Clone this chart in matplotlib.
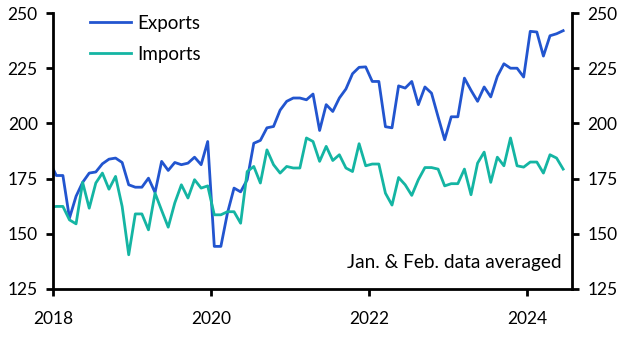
import numpy as np
import matplotlib
matplotlib.use("Agg")
from matplotlib import pyplot as plt

# monthly values, Dec 2017 (clipped at the axis) to Jun 2024
exports = [182.6,
           176.4, 176.4, 157.1, 167.0, 173.3, 177.5, 178.0, 181.7, 183.8, 184.3, 182.3, 172.2,
           171.1, 171.1, 175.2, 168.7, 182.8, 178.7, 182.3, 181.3, 182.0, 184.7, 181.3, 191.8,
           144.3, 144.3, 159.4, 170.7, 169.0, 174.5, 191.0, 192.3, 198.0, 198.6, 206.0, 210.0,
           211.5, 211.5, 210.7, 213.3, 196.8, 208.5, 205.4, 211.5, 215.6, 222.5, 225.4, 225.6,
           219.0, 219.0, 198.5, 198.0, 217.0, 216.0, 219.0, 208.5, 216.5, 213.7, 203.0, 192.6,
           203.0, 203.0, 220.5, 215.0, 210.0, 216.5, 212.0, 221.3, 227.0, 225.0, 225.0, 221.0,
           241.7, 241.4, 230.5, 239.7, 240.6, 242.0]
imports = [162.0,
           162.4, 162.4, 156.3, 154.5, 173.3, 161.6, 173.0, 177.5, 170.2, 176.0, 162.4, 140.5,
           159.0, 159.0, 151.8, 168.4, 160.6, 153.0, 164.0, 172.2, 166.2, 174.5, 170.7, 171.7,
           158.6, 158.6, 160.0, 160.0, 154.8, 178.2, 180.5, 173.0, 188.0, 181.3, 177.5, 180.5,
           179.8, 179.8, 193.4, 191.8, 182.8, 189.6, 183.2, 185.8, 179.8, 178.2, 190.8, 180.8,
           181.6, 181.6, 168.4, 163.0, 175.5, 172.2, 167.4, 174.5, 180.0, 180.0, 179.3, 171.7,
           172.7, 172.7, 179.3, 167.7, 182.0, 187.0, 173.3, 184.7, 180.8, 193.4, 180.8, 180.2,
           182.5, 182.5, 177.5, 185.8, 184.3, 179.3]
start_year = 2017
start_month = 12
year_ticks = [2018, 2020, 2022, 2024]
y_ticks = [125, 150, 175, 200, 225, 250]

n = len(exports)
months = np.arange(n) + (start_month - 1)
x = start_year + (months + 0.5) / 12.0

plt.rcParams['font.family'] = ['Lato', 'DejaVu Sans']

fig = plt.figure(figsize=(6.26, 3.38), dpi=100)
ax = fig.add_axes([0.0847, 0.145, 0.829, 0.8165])

ax.plot(x, exports, color='#2255CF', lw=2.0, label='Exports', solid_joinstyle='round')
ax.plot(x, imports, color='#14B5A3', lw=2.0, label='Imports', solid_joinstyle='round')

ax.set_xlim(2018.0, 2024.57)
ax.set_ylim(125, 250)
ax.set_xticks(year_ticks)
ax.set_yticks(y_ticks)

for s in ['left', 'right', 'bottom']:
    ax.spines[s].set_linewidth(2.0)
    ax.spines[s].set_color('black')
ax.spines['top'].set_visible(False)

ax.tick_params(axis='both', which='major', direction='out', length=5, width=2,
               labelsize=12.5, colors='black')
ax.tick_params(axis='y', left=True, right=True, labelleft=True, labelright=True, pad=6)
ax.tick_params(axis='x', pad=11)

ax.legend(loc='upper left', bbox_to_anchor=(0.05, 1.035), frameon=False, fontsize=13.5,
          handlelength=2.15, handletextpad=0.35, labelspacing=0.75, borderaxespad=0.2)

ax.text(0.98, 0.065, 'Jan. & Feb. data averaged', transform=ax.transAxes,
        ha='right', va='bottom', fontsize=13.7)

fig.savefig('out.png', dpi=100)
